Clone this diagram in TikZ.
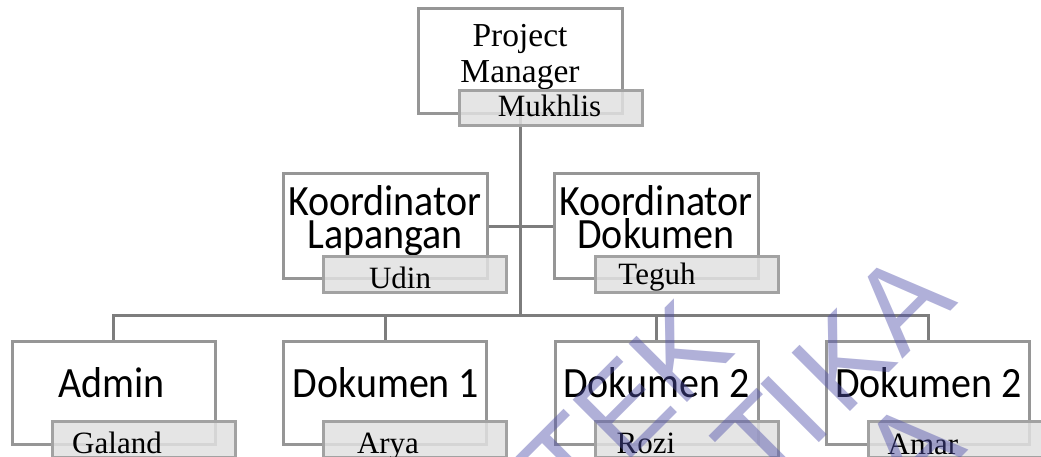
\documentclass[tikz,border=0pt]{standalone}
\usepackage{fontspec}
\setmainfont{Liberation Serif}
\newfontfamily\calfont{Carlito}
\newfontfamily\wmfont{Liberation Sans}
\definecolor{boxline}{RGB}{150,150,150}
\definecolor{conline}{RGB}{125,125,125}
\definecolor{namefill}{RGB}{225,225,225}
\definecolor{nameline}{RGB}{162,162,162}
\definecolor{wmcol}{RGB}{80,80,170}
\tikzset{
  rolebox/.style={draw=boxline, line width=3pt, fill=white, rectangle, inner sep=0pt, minimum width=203pt, minimum height=103pt},
  namebox/.style={draw=nameline, line width=3pt, fill=namefill, fill opacity=0.85, rectangle, inner sep=0pt, minimum width=183pt, minimum height=36pt},
  conn/.style={draw=conline, line width=3pt},
  roletxt/.style={anchor=base, inner sep=0pt, yscale=1.08, font=\calfont\fontsize{40}{40}\selectfont},
  toptxt/.style={anchor=base, inner sep=0pt, font=\fontsize{33.5}{34}\selectfont},
  nametxt/.style={anchor=base, inner sep=0pt, font=\fontsize{31}{31}\selectfont},
  wm/.style={anchor=base, inner sep=0pt, rotate=45, text=wmcol, text opacity=0.45, font=\wmfont\fontsize{120}{120}\selectfont}
}
\begin{document}
\begin{tikzpicture}[x=1pt, y=-1pt]
\useasboundingbox (0,0) rectangle (1041,457);
\clip (0,0) rectangle (1041,457);
% role boxes
\node[rolebox, minimum width=204pt, minimum height=105pt] (pm) at (520,61.5) {};
\node[rolebox, minimum width=204pt, minimum height=104pt] (kl) at (385,226) {};
\node[rolebox, minimum width=204pt, minimum height=104pt] (kd) at (656,226) {};
\node[rolebox] (ad) at (113.5,392.5) {};
\node[rolebox] (d1) at (385,392.5) {};
\node[rolebox] (d2) at (656.5,392.5) {};
\node[rolebox] (d3) at (928,392.5) {};
% connectors
\coordinate (bus) at (520,315);
\draw[conn] (pm.south) -- (bus);
\draw[conn] (kl.east) -- (kd.west);
\draw[conn] (bus) -| (ad.north);
\draw[conn] (bus) -| (d1.north);
\draw[conn] (bus) -| (d2.north);
\draw[conn] (bus) -| (d3.north);
% role texts
\node[toptxt] (pmt1) at (520,47) {Project};
\node[toptxt] (pmt2) at (520,83) {Manager};
\node[roletxt] (klt1) at (385,215) {Koordinator};
\node[roletxt] (klt2) at (385,248) {Lapangan};
\node[roletxt] (kdt1) at (656,215) {Koordinator};
\node[roletxt] (kdt2) at (656,248) {Dokumen};
\node[roletxt] (adt) at (111.5,397) {Admin};
\node[roletxt] (d1t) at (386,397) {Dokumen 1};
\node[roletxt] (d2t) at (656.5,397) {Dokumen 2};
\node[roletxt] (d3t) at (928.5,397) {Dokumen 2};
% name boxes
\node[namebox, minimum height=35pt] (pmn) at (550.5,108.5) {};
\node[namebox] (kln) at (415,274) {};
\node[namebox] (kdn) at (686.5,274) {};
\node[namebox] (adn) at (143.5,439) {};
\node[namebox] (d1n) at (415,439) {};
\node[namebox] (d2n) at (687,439) {};
\node[namebox] (d3n) at (959.5,439) {};
% name texts
\node[nametxt] (pmnt) at (549.5,117) {Mukhlis};
\node[nametxt] (klnt) at (400,288) {Udin};
\node[nametxt] (kdnt) at (657,284) {Teguh};
\node[nametxt] (adnt) at (117,453) {Galand};
\node[nametxt] (d1nt) at (388,453) {Arya};
\node[nametxt] (d2nt) at (646,453) {Rozi};
\node[nametxt] (d3nt) at (923,454) {Amar};
% watermark
\node[wm] (w1) at (598,492) {T};
\node[wm] (w2) at (652.5,437.5) {E};
\node[wm] (w3) at (709,381) {K};
\node[wm] (w4) at (791.5,470.5) {T};
\node[wm] (w5) at (823.5,438.5) {I};
\node[wm] (w6) at (871.5,390.5) {K};
\node[wm] (w7) at (931,331) {A};
\node[wm] (w8) at (940.75,477.75) {A};
\end{tikzpicture}
\end{document}
